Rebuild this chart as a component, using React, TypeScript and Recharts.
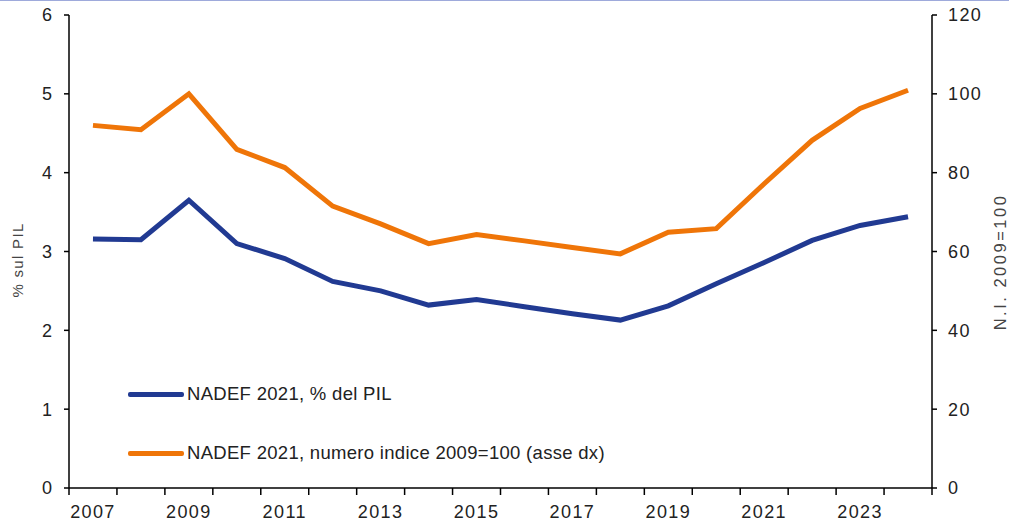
import React from 'react';
import { LineChart, Line, XAxis, YAxis } from 'recharts';

const years = [2007, 2008, 2009, 2010, 2011, 2012, 2013, 2014, 2015, 2016, 2017, 2018, 2019, 2020, 2021, 2022, 2023, 2024];
const pilShare = [3.16, 3.15, 3.65, 3.10, 2.91, 2.62, 2.50, 2.32, 2.39, 2.30, 2.21, 2.13, 2.31, 2.59, 2.86, 3.14, 3.33, 3.44];
const indexValues = [92.0, 90.9, 100, 85.9, 81.3, 71.5, 67.0, 62.0, 64.3, 62.7, 61.0, 59.4, 64.9, 65.8, 77.2, 88.2, 96.3, 100.9];
const leftTicks = [0, 1, 2, 3, 4, 5, 6];
const rightTicks = [0, 20, 40, 60, 80, 100, 120];
const labelYears = [2007, 2009, 2011, 2013, 2015, 2017, 2019, 2021, 2023];

const data = years.map((year, i) => ({ year, pil: pilShare[i], idx: indexValues[i] }));
const boundaries = [...years.map((y) => y - 0.5), years[years.length - 1] + 0.5];

const BLUE = '#213a92';
const ORANGE = '#ef7508';
const TEXT = '#222';
const FONT = '"Liberation Sans", Arial, sans-serif';

const W = 1009;
const H = 525;
const PLOT_LEFT = 69;
const PLOT_RIGHT = 932;
const HALF_BAND = (PLOT_RIGHT - PLOT_LEFT) / years.length / 2;

const YearTick = ({ x, y, payload }: any) => {
  const year = payload.value + 0.5;
  return (
    <g>
      <line x1={x} x2={x} y1={y} y2={y + 7} stroke="#000" strokeWidth={1.5} />
      {labelYears.includes(year) && (
        <text x={x + HALF_BAND} y={y + 30} textAnchor="middle" fontSize={18} letterSpacing={1.4} fill={TEXT} fontFamily={FONT}>
          {year}
        </text>
      )}
    </g>
  );
};

const legendItems = [
  { label: 'NADEF 2021, % del PIL', color: BLUE },
  { label: 'NADEF 2021, numero indice 2009=100 (asse dx)', color: ORANGE },
];

const ChartLegend = () => (
  <div style={{ position: 'absolute', left: 128, top: 383, fontFamily: FONT }}>
    {legendItems.map((item, i) => (
      <div key={i} style={{ display: 'flex', alignItems: 'center', height: 20, marginBottom: i === 0 ? 39 : 0 }}>
        <span style={{ display: 'inline-block', width: 56, height: 5, background: item.color, borderRadius: 2 }} />
        <span style={{ fontSize: 18.5, letterSpacing: 0.3, color: TEXT, marginLeft: 3 }}>{item.label}</span>
      </div>
    ))}
  </div>
);

const AxisTitle = ({ text, cx, cy, size, spacing }: any) => (
  <div
    style={{
      position: 'absolute',
      left: cx,
      top: cy,
      transform: 'translate(-50%, -50%) rotate(-90deg)',
      whiteSpace: 'nowrap',
      fontFamily: FONT,
      fontSize: size,
      letterSpacing: spacing,
      color: '#444',
    }}
  >
    {text}
  </div>
);

export default function App() {
  return (
    <div style={{ position: 'absolute', left: 0, top: 0, width: W, height: H, background: '#fff', borderTop: '1px solid #9eaadb', boxSizing: 'border-box' }}>
      <LineChart width={W} height={H - 1} data={data} margin={{ top: 14, right: 17, left: 19, bottom: 7 }}>
        <XAxis
          dataKey="year"
          type="number"
          domain={[years[0] - 0.5, years[years.length - 1] + 0.5]}
          ticks={boundaries}
          interval={0}
          tickLine={false}
          tickSize={0}
          tickMargin={0}
          tick={<YearTick />}
          axisLine={{ stroke: '#000', strokeWidth: 1.5 }}
          height={30}
        />
        <YAxis
          yAxisId="left"
          domain={[0, 6]}
          ticks={leftTicks}
          width={50}
          tickSize={5}
          tickMargin={12}
          axisLine={{ stroke: '#000', strokeWidth: 1.5 }}
          tickLine={{ stroke: '#000', strokeWidth: 1.5 }}
          tick={{ fontSize: 18, fill: TEXT, fontFamily: FONT }}
        />
        <YAxis
          yAxisId="right"
          orientation="right"
          domain={[0, 120]}
          ticks={rightTicks}
          width={60}
          tickSize={5}
          tickMargin={11}
          axisLine={{ stroke: '#000', strokeWidth: 1.5 }}
          tickLine={{ stroke: '#000', strokeWidth: 1.5 }}
          tick={{ fontSize: 18, fill: TEXT, fontFamily: FONT, textAnchor: 'start', letterSpacing: 1.4 }}
        />
        <Line yAxisId="left" dataKey="pil" stroke={BLUE} strokeWidth={5} dot={false} isAnimationActive={false} />
        <Line yAxisId="right" dataKey="idx" stroke={ORANGE} strokeWidth={5} dot={false} isAnimationActive={false} />
      </LineChart>
      <ChartLegend />
      <AxisTitle text="% sul PIL" cx={17} cy={259} size={15} spacing={1.3} />
      <AxisTitle text="N.I. 2009=100" cx={1000} cy={261} size={16.5} spacing={2.5} />
    </div>
  );
}
